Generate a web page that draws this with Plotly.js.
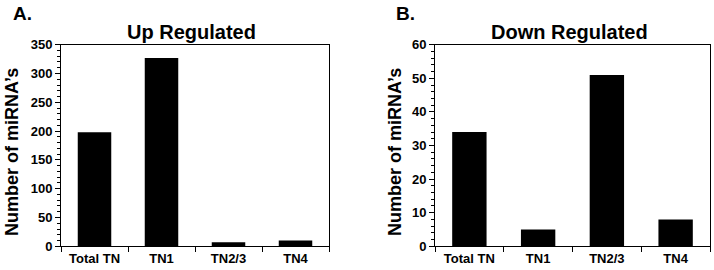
<!DOCTYPE html>
<html>
<head>
<meta charset="utf-8">
<script src="https://cdn.plot.ly/plotly-3.0.1.min.js"></script>
<style>html,body{margin:0;padding:0;background:#fff;}#chart{width:714px;height:270px;}</style>
</head>
<body>
<div id="chart"></div>
<script>
const categories = ['Total TN', 'TN1', 'TN2/3', 'TN4'];
const upValues = [198, 327, 7, 10];
const downValues = [34, 5, 51, 8];
const panelTitles = ['Up Regulated', 'Down Regulated'];
const panelLabels = ['A.', 'B.'];
const yTitle = 'Number of miRNA\u2019s';

const W = 714, H = 270;
const FONT = 'Liberation Sans, Arial, sans-serif';
const px = v => v / W;
const py = v => 1 - v / H;

const traces = [
  {type: 'bar', x: categories, y: upValues, xaxis: 'x', yaxis: 'y',
   marker: {color: '#000'}, hoverinfo: 'x+y'},
  {type: 'bar', x: categories, y: downValues, xaxis: 'x2', yaxis: 'y2',
   marker: {color: '#000'}, hoverinfo: 'x+y'}
];

function xa(domain, anchor) {
  return {domain: domain, anchor: anchor, type: 'category', range: [-0.5, 3.5],
    showline: true, linecolor: '#000', linewidth: 1, mirror: true,
    ticks: 'outside', ticklen: 5, tickcolor: '#000', tickwidth: 1,
    tickson: 'boundaries', showgrid: false, zeroline: false,
    tickfont: {family: FONT, size: 13, color: '#000', weight: 'bold'}, fixedrange: true};
}
function ya(domain, anchor, max, dtick, minorDtick) {
  return {domain: domain, anchor: anchor, range: [0, max],
    showline: true, linecolor: '#000', linewidth: 1, mirror: true,
    ticks: 'outside', ticklen: 5, tickcolor: '#000', tickwidth: 1, dtick: dtick,
    minor: {dtick: minorDtick, ticks: 'outside', ticklen: 3, tickcolor: '#000', tickwidth: 1, showgrid: false},
    showgrid: false, zeroline: false,
    tickfont: {family: FONT, size: 13, color: '#000', weight: 'bold'}, fixedrange: true};
}

const yDom = [1 - 246.3 / H, 1 - 44.7 / H];
const layout = {
  width: W, height: H,
  margin: {l: 0, r: 0, t: 0, b: 0},
  paper_bgcolor: '#fff', plot_bgcolor: '#fff',
  showlegend: false, bargap: 0.5,
  font: {family: FONT, color: '#000'},
  xaxis: xa([px(61), px(329)], 'y'),
  yaxis: ya(yDom, 'x', 350, 50, 10),
  xaxis2: xa([px(435), px(710)], 'y2'),
  yaxis2: ya(yDom, 'x2', 60, 10, 2),
  annotations: [
    {text: panelTitles[0], x: px(191.5), y: py(32), xref: 'paper', yref: 'paper', showarrow: false,
     xanchor: 'center', yanchor: 'middle', font: {family: FONT, size: 20, weight: 'bold', color: '#000'}},
    {text: panelTitles[1], x: px(569), y: py(32), xref: 'paper', yref: 'paper', showarrow: false,
     xanchor: 'center', yanchor: 'middle', font: {family: FONT, size: 20, weight: 'bold', color: '#000'}},
    {text: panelLabels[0], x: px(22), y: py(13), xref: 'paper', yref: 'paper', showarrow: false,
     xanchor: 'center', yanchor: 'middle', font: {family: FONT, size: 19, weight: 'bold', color: '#000'}},
    {text: panelLabels[1], x: px(405), y: py(13), xref: 'paper', yref: 'paper', showarrow: false,
     xanchor: 'center', yanchor: 'middle', font: {family: FONT, size: 19, weight: 'bold', color: '#000'}},
    {text: yTitle, x: px(12), y: py(152), xref: 'paper', yref: 'paper', showarrow: false, textangle: -90,
     xanchor: 'center', yanchor: 'middle', font: {family: FONT, size: 18, weight: 'bold', color: '#000'}},
    {text: yTitle, x: px(395), y: py(152), xref: 'paper', yref: 'paper', showarrow: false, textangle: -90,
     xanchor: 'center', yanchor: 'middle', font: {family: FONT, size: 18, weight: 'bold', color: '#000'}}
  ]
};

Plotly.newPlot('chart', traces, layout, {displayModeBar: false, staticPlot: true});
</script>
</body>
</html>
